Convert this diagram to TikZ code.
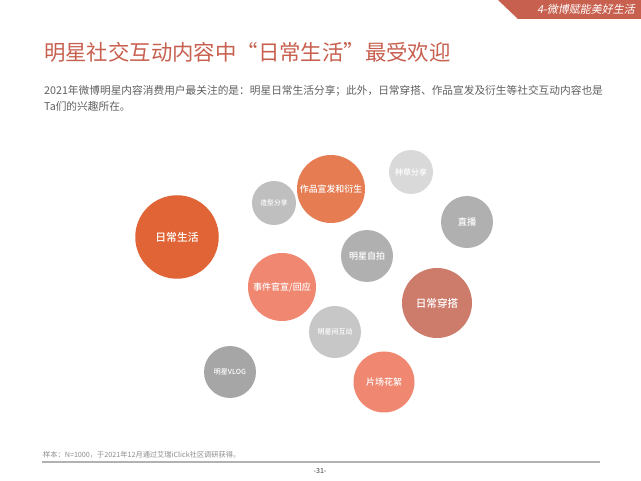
\documentclass[tikz,border=0pt]{standalone}
\usepackage{xcolor}
\usepackage{fontspec}
\setmainfont{Noto Sans CJK SC}
\newfontfamily\midfont{Noto Sans CJK SC Medium}
\usepackage{tikz}
\definecolor{titlered}{RGB}{200,96,79}
\definecolor{bodygray}{RGB}{96,96,96}
\definecolor{notegray}{RGB}{140,140,140}
\definecolor{rulegray}{RGB}{178,178,178}
\definecolor{deeporange}{RGB}{224,100,54}
\definecolor{midorange}{RGB}{229,124,82}
\definecolor{salmon}{RGB}{240,135,112}
\definecolor{dustyred}{RGB}{205,123,106}
\newcommand{\sz}[1]{\fontsize{#1}{#1}\selectfont}
\tikzset{
    bubble/.style={circle, inner sep=0pt, text=white},
    plaintext/.style={inner sep=0pt, anchor=west},
}

\begin{document}
\begin{tikzpicture}[x=1pt, y=-1pt]
    \useasboundingbox (0,0) rectangle (641,481);
    \fill[white] (0,0) rectangle (641,481);

    % Corner tab
    \fill[titlered] (498,0) -- (641,0) -- (641,19) -- (518,19) -- cycle;
    \node[inner sep=0pt, anchor=east, text=white, font=\sz{11}, xslant=0.2] (tab) at (636,9.5) {4-微博赋能美好生活};

    % Heading and intro
    \node[plaintext, text=titlered, font=\sz{21.4}] (title) at (44,52) {明星社交互动内容中“日常生活”最受欢迎};
    \node[plaintext, text=bodygray, font=\sz{10.7}] (introa) at (44,91) {2021年微博明星内容消费用户最关注的是：明星日常生活分享；此外，日常穿搭、作品宣发及衍生等社交互动内容也是};
    \node[plaintext, text=bodygray, font=\sz{10.7}] (introb) at (44,106) {Ta们的兴趣所在。};

    % Orange bubbles
    \node[bubble, fill=deeporange, minimum size=83.5pt, font=\midfont\sz{10.8}] (life) at (177,237) {日常生活};
    \node[bubble, fill=midorange, minimum size=68pt, font=\midfont\sz{8.9}] (works) at (331,189) {作品宣发和衍生};
    \node[bubble, fill=salmon, minimum size=68pt, font=\midfont\sz{9}] (event) at (282,287) {事件官宣/回应};
    \node[bubble, fill=dustyred, minimum size=70pt, font=\midfont\sz{10.6}] (outfit) at (437,303) {日常穿搭};
    \node[bubble, fill=salmon, minimum size=61pt, font=\midfont\sz{9}] (scenes) at (384,382) {片场花絮};

    % Gray bubbles
    \node[bubble, fill=black!25, minimum size=44pt, font=\midfont\sz{6.8}] (styling) at (274,203) {造型分享};
    \node[bubble, fill=black!15, minimum size=44pt, font=\midfont\sz{8}] (seed) at (411,172) {种草分享};
    \node[bubble, fill=black!31, minimum size=52pt, font=\midfont\sz{9.2}] (live) at (467,222) {直播};
    \node[bubble, fill=black!31, minimum size=52pt, font=\midfont\sz{9}] (selfie) at (367,256) {明星自拍};
    \node[bubble, fill=black!22, minimum size=52pt, font=\midfont\sz{7}] (mutual) at (335,332) {明星间互动};
    \node[bubble, fill=black!35, minimum size=52pt, font=\midfont\sz{7}] (vlog) at (230,372) {明星VLOG};

    % Footer
    \node[plaintext, text=notegray, font=\sz{7.2}] (note) at (43,455) {样本：N=1000，于2021年12月通过艾瑞iClick社区调研获得。};
    \coordinate (rulea) at (42,462);
    \coordinate (ruleb) at (600,462);
    \draw[rulegray, line width=1.2pt] (rulea) -- (ruleb);
    \node[inner sep=0pt, text=bodygray, font=\midfont\sz{7}] (page) at (320,471) {-31-};
\end{tikzpicture}
\end{document}
